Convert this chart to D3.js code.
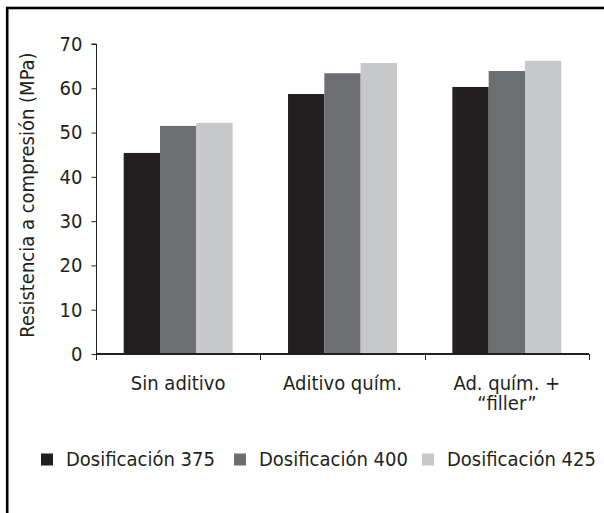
<!DOCTYPE html>
<html>
<head>
<meta charset="utf-8">
<script src="https://cdn.jsdelivr.net/npm/d3@7"></script>
<style>
  html, body { margin: 0; padding: 0; background: #fff; }
  svg { display: block; }
  text { font-family: "DejaVu Sans Condensed", "DejaVu Sans", sans-serif; fill: #231f20; }
</style>
</head>
<body>
<script>
const categories = [["Sin aditivo"], ["Aditivo quím."], ["Ad. quím. +", "\u201cfiller\u201d"]];
const categoryKeys = ["Sin aditivo", "Aditivo quím.", "Ad. quím. + filler"];
const seriesNames = ["Dosificación 375", "Dosificación 400", "Dosificación 425"];
const dos375 = [45.4, 58.7, 60.3];
const dos400 = [51.5, 63.4, 63.9];
const dos425 = [52.2, 65.7, 66.2];
const yTicks = [0, 10, 20, 30, 40, 50, 60, 70];
const colors = ["#231f20", "#6d6e71", "#c7c8ca"];

const series = [dos375, dos400, dos425];
const W = 604, H = 513;
const svg = d3.select("body").append("svg").attr("width", W).attr("height", H);

// frame
svg.append("rect").attr("x", 7.2).attr("y", 8).attr("width", 640).attr("height", 540)
  .attr("fill", "none").attr("stroke", "#000").attr("stroke-width", 2.6);

const x0 = d3.scaleBand().domain(categoryKeys).range([96, 589]).paddingInner(0.337).paddingOuter(0.1685);
const x1 = d3.scaleBand().domain(d3.range(3)).range([0, x0.bandwidth()]);
const y = d3.scaleLinear().domain([0, 70]).range([354, 44]);

// bars
const groups = svg.append("g").selectAll("g").data(categoryKeys).join("g")
  .attr("transform", d => `translate(${x0(d)},0)`);
groups.selectAll("rect").data((d, i) => series.map((s, j) => ({ j, v: s[i] }))).join("rect")
  .attr("x", d => x1(d.j)).attr("width", x1.bandwidth())
  .attr("y", d => y(d.v)).attr("height", d => y(0) - y(d.v))
  .attr("fill", d => colors[d.j]);

// y axis
const yAxis = svg.append("g").attr("transform", "translate(96.5,0)")
  .call(d3.axisLeft(y).tickValues(yTicks).tickSize(5).tickPadding(9));
yAxis.select(".domain").attr("stroke", "#231f20").attr("stroke-width", 1).attr("d", `M-5,${y(70)}H0V${y(0)}`);
yAxis.selectAll(".tick line").attr("stroke", "#231f20");
yAxis.selectAll(".tick text").style("font-size", "20px").attr("fill", "#231f20");

// x axis line + boundary ticks
const step = x0.step();
const bounds = [0, 1, 2, 3].map(i => 96 + i * step);
svg.append("line").attr("x1", 96).attr("x2", 589).attr("y1", y(0)).attr("y2", y(0))
  .attr("stroke", "#231f20").attr("stroke-width", 2);
svg.append("g").selectAll("line").data(bounds).join("line")
  .attr("x1", d => Math.round(d) + 0.5).attr("x2", d => Math.round(d) + 0.5)
  .attr("y1", y(0)).attr("y2", y(0) + 6)
  .attr("stroke", "#231f20").attr("stroke-width", 1);

// category labels
const catLabels = svg.append("g").selectAll("text").data(categories).join("text")
  .attr("x", (d, i) => x0(categoryKeys[i]) + x0.bandwidth() / 2)
  .attr("y", 390).attr("text-anchor", "middle").style("font-size", "20px");
catLabels.selectAll("tspan").data(d => d).join("tspan")
  .attr("x", function() { return this.parentNode.getAttribute("x"); })
  .attr("dy", (d, i) => i === 0 ? 0 : 19.5)
  .text(d => d);

// y title
svg.append("text").attr("transform", "translate(34,195) rotate(-90)")
  .attr("text-anchor", "middle").style("font-size", "20px")
  .text("Resistencia a compresión (MPa)");

// legend
const legX = [41, 234, 422];
const leg = svg.append("g").selectAll("g").data(seriesNames).join("g")
  .attr("transform", (d, i) => `translate(${legX[i]},0)`);
leg.append("rect").attr("x", 0).attr("y", 453.5).attr("width", 12).attr("height", 12)
  .attr("fill", (d, i) => colors[i]);
leg.append("text").attr("x", 25).attr("y", 466).style("font-size", "20px").text(d => d);
</script>
</body>
</html>
